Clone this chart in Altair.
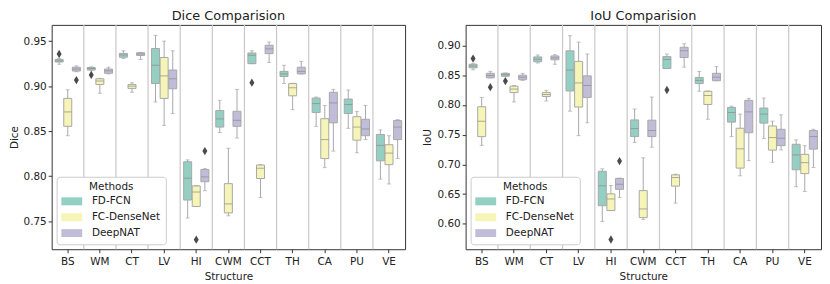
import altair as alt
import pandas as pd

structures = ["BS", "WM", "CT", "LV", "HI", "CWM", "CCT", "TH", "CA", "PU", "VE"]
methods = ["FD-FCN", "FC-DenseNet", "DeepNAT"]
colors = ["#93cfc3", "#f6f4b7", "#c1bdd9"]

# box statistics per structure: [whisker_low, q1, median, q3, whisker_high]
dice_fdfcn = [
    [0.9243, 0.9268, 0.9280, 0.9296, 0.9307], [0.9171, 0.9179, 0.9196, 0.9207, 0.9214],
    [0.9307, 0.9321, 0.9346, 0.9364, 0.9393], [0.8825, 0.9029, 0.9232, 0.9418, 0.9564],
    [0.7536, 0.7736, 0.7979, 0.8161, 0.8182], [0.8486, 0.8546, 0.8636, 0.8729, 0.8843],
    [0.9250, 0.9250, 0.9343, 0.9368, 0.9393], [0.9029, 0.9107, 0.9136, 0.9164, 0.9232],
    [0.8554, 0.8707, 0.8807, 0.8868, 0.8879], [0.8532, 0.8696, 0.8796, 0.8857, 0.8957],
    [0.7968, 0.8171, 0.8343, 0.8464, 0.8514],
]
dice_fcdense = [
    [0.8450, 0.8554, 0.8714, 0.8864, 0.8960], [0.8921, 0.9018, 0.9057, 0.9082, 0.9086],
    [0.8932, 0.8975, 0.9000, 0.9018, 0.9039], [0.8564, 0.8864, 0.9114, 0.9318, 0.9500],
    [0.7664, 0.7664, 0.7825, 0.7893, 0.7896], [0.7561, 0.7593, 0.7693, 0.7918, 0.8311],
    [0.7764, 0.7975, 0.8089, 0.8125, 0.8129], [0.8739, 0.8893, 0.8982, 0.9029, 0.9032],
    [0.8096, 0.8196, 0.8407, 0.8639, 0.8786], [0.8261, 0.8400, 0.8546, 0.8661, 0.8718],
    [0.7914, 0.8129, 0.8257, 0.8350, 0.8450],
]
dice_deepnat = [
    [0.9160, 0.9168, 0.9190, 0.9210, 0.9225], [0.9136, 0.9143, 0.9170, 0.9190, 0.9210],
    [0.9296, 0.9340, 0.9357, 0.9371, 0.9375], [0.8696, 0.8971, 0.9082, 0.9179, 0.9393],
    [0.7839, 0.7939, 0.7993, 0.8075, 0.8085], [0.8425, 0.8554, 0.8621, 0.8721, 0.8964],
    [0.9264, 0.9361, 0.9414, 0.9454, 0.9489], [0.9136, 0.9136, 0.9164, 0.9210, 0.9275],
    [0.8279, 0.8593, 0.8814, 0.8932, 0.8964], [0.8407, 0.8450, 0.8525, 0.8632, 0.8786],
    [0.8196, 0.8407, 0.8546, 0.8618, 0.8629],
]
dice_outliers = [
    ("BS", "FD-FCN", 0.9357), ("BS", "DeepNAT", 0.9068), ("WM", "FD-FCN", 0.9125),
    ("HI", "FC-DenseNet", 0.7296), ("HI", "DeepNAT", 0.8279), ("CCT", "FD-FCN", 0.9039),
]

iou_fdfcn = [
    [0.8594, 0.8626, 0.8659, 0.8686, 0.8697], [0.8485, 0.8485, 0.8512, 0.8534, 0.8540],
    [0.8707, 0.8729, 0.8772, 0.8810, 0.8843], [0.7896, 0.8237, 0.8589, 0.8913, 0.9168],
    [0.6038, 0.6303, 0.6639, 0.6883, 0.6925], [0.7370, 0.7468, 0.7603, 0.7749, 0.7933],
    [0.8615, 0.8615, 0.8768, 0.8816, 0.8859], [0.8231, 0.8361, 0.8415, 0.8464, 0.8566],
    [0.7468, 0.7712, 0.7874, 0.7960, 0.7981], [0.7435, 0.7695, 0.7847, 0.7949, 0.8118],
    [0.6623, 0.6909, 0.7159, 0.7338, 0.7413],
]
iou_fcdense = [
    [0.7321, 0.7467, 0.7727, 0.7971, 0.8128], [0.8052, 0.8209, 0.8269, 0.8317, 0.8328],
    [0.8068, 0.8144, 0.8177, 0.8209, 0.8247], [0.7484, 0.7966, 0.8372, 0.8735, 0.9060],
    [0.6222, 0.6222, 0.6417, 0.6503, 0.6644], [0.6070, 0.6103, 0.6249, 0.6558, 0.7110],
    [0.6347, 0.6633, 0.6779, 0.6823, 0.6834], [0.7760, 0.8009, 0.8160, 0.8231, 0.8236],
    [0.6807, 0.6937, 0.7262, 0.7608, 0.7847], [0.7034, 0.7240, 0.7452, 0.7647, 0.7728],
    [0.6542, 0.6844, 0.7029, 0.7169, 0.7315],
]
iou_deepnat = [
    [0.8458, 0.8458, 0.8496, 0.8534, 0.8567], [0.8415, 0.8426, 0.8469, 0.8502, 0.8534],
    [0.8686, 0.8762, 0.8794, 0.8827, 0.8848], [0.7700, 0.8128, 0.8329, 0.8491, 0.8859],
    [0.6444, 0.6579, 0.6665, 0.6763, 0.6769], [0.7289, 0.7468, 0.7570, 0.7744, 0.8134],
    [0.8638, 0.8800, 0.8914, 0.8973, 0.9032], [0.8410, 0.8410, 0.8469, 0.8534, 0.8647],
    [0.7062, 0.7533, 0.7884, 0.8079, 0.8112], [0.7245, 0.7315, 0.7440, 0.7591, 0.7835],
    [0.6948, 0.7257, 0.7468, 0.7570, 0.7591],
]
iou_outliers = [
    ("BS", "FD-FCN", 0.8783), ("BS", "DeepNAT", 0.8301), ("WM", "FD-FCN", 0.8404),
    ("HI", "FC-DenseNet", 0.5734), ("HI", "DeepNAT", 0.7056), ("CCT", "FD-FCN", 0.8253),
]

dice_ticks = [0.75, 0.80, 0.85, 0.90, 0.95]
iou_ticks = [0.60, 0.65, 0.70, 0.75, 0.80, 0.85, 0.90]

FONT = "DejaVu Sans"
LINE = "#a8a8a8"


def stats_frame(series):
    rows = []
    for m, arr in zip(methods, series):
        for s, (lo, q1, med, q3, hi) in zip(structures, arr):
            rows.append(dict(Structure=s, Method=m, lo=lo, q1=q1, med=med, q3=q3, hi=hi))
    return pd.DataFrame(rows)


def panel(series, outliers, title, ytitle, domain, ticks, width):
    df = stats_frame(series)
    od = pd.DataFrame(outliers, columns=["Structure", "Method", "value"])
    sep = pd.DataFrame({"Structure": structures[1:]})

    xs = alt.Scale(domain=structures, paddingInner=0, paddingOuter=0)
    xo = alt.Scale(domain=methods, paddingInner=0.07, paddingOuter=0.4)
    xax = alt.Axis(labelAngle=0)
    x = alt.X("Structure:N", scale=xs, title="Structure", axis=xax)
    xoff = alt.XOffset("Method:N", scale=xo)
    ys = alt.Scale(domain=domain, nice=False, zero=False)
    yax = alt.Axis(values=ticks, format=".2f")

    def Y(f):
        return alt.Y(f, scale=ys, axis=yax, title=ytitle)

    base = alt.Chart(df)
    seps = alt.Chart(sep).mark_rule(color="#c8c8c8", strokeWidth=1.2).encode(
        x=alt.X("Structure:N", scale=xs, title="Structure", axis=xax, bandPosition=0)
    )
    whisk = base.mark_rule(color=LINE, strokeWidth=1).encode(
        x=x, xOffset=xoff, y=Y("lo:Q"), y2="hi:Q"
    )
    box = base.mark_bar(stroke=LINE, strokeWidth=1).encode(
        x=x, xOffset=xoff, y=Y("q1:Q"), y2="q3:Q",
        color=alt.Color(
            "Method:N",
            scale=alt.Scale(domain=methods, range=colors),
            legend=alt.Legend(
                title="Methods", orient="bottom-left", offset=5,
                fillColor="white", strokeColor="#cccccc", cornerRadius=3,
                padding=5, symbolType="M-2.1,-0.8H2.1V0.8H-2.1Z", symbolSize=100,
                symbolOffset=5, symbolStrokeWidth=0, labelFontSize=10.5, titleFontSize=10.5,
                titleFontWeight="normal", titleAnchor="middle", rowPadding=5,
                labelOffset=15, labelFont=FONT, titleFont=FONT, titlePadding=4,
                labelColor="#222222", titleColor="#222222",
            ),
        ),
    )
    med = base.mark_tick(color="#8a8a8a", thickness=1, size=8).encode(
        x=x, xOffset=xoff, y=Y("med:Q")
    )
    caplo = base.mark_tick(color=LINE, thickness=1, size=4).encode(
        x=x, xOffset=xoff, y=Y("lo:Q")
    )
    caphi = base.mark_tick(color=LINE, thickness=1, size=4).encode(
        x=x, xOffset=xoff, y=Y("hi:Q")
    )
    out = alt.Chart(od).mark_point(
        shape="M0,-1L0.6,0L0,1L-0.6,0Z", filled=True, color="#4a4a4a", size=70, opacity=1
    ).encode(x=x, xOffset=xoff, y=Y("value:Q"))

    return alt.layer(seps, whisk, box, med, caplo, caphi, out).properties(
        width=width, height=226,
        title=alt.Title(title, fontSize=13, fontWeight="normal", offset=1, font=FONT),
    )


left = panel([dice_fdfcn, dice_fcdense, dice_deepnat], dice_outliers,
             "Dice Comparision", "Dice", [0.719, 0.968], dice_ticks, 356)
right = panel([iou_fdfcn, iou_fcdense, iou_deepnat], iou_outliers,
              "IoU Comparision", "IoU", [0.557, 0.935], iou_ticks, 358)

chart = (
    alt.hconcat(left, right, spacing=16)
    .resolve_scale(color="independent")
    .resolve_legend(color="independent")
    .properties(padding=0)
    .configure_view(stroke="#333333", strokeWidth=1)
    .configure_axis(
        domain=False, grid=False, labelFont=FONT, titleFont=FONT,
        labelFontSize=10.5, titleFontSize=10.5, titleFontWeight="normal",
        tickColor="#333333", labelColor="#222222", titleColor="#222222",
        tickSize=3.5, titlePadding=4,
    )
    .configure_axisX(labelPadding=4)
    .configure_axisY(labelPadding=2)
    .configure_title(color="#222222")
)

chart.save("out.html", embed_options={"renderer": "svg", "actions": False})
